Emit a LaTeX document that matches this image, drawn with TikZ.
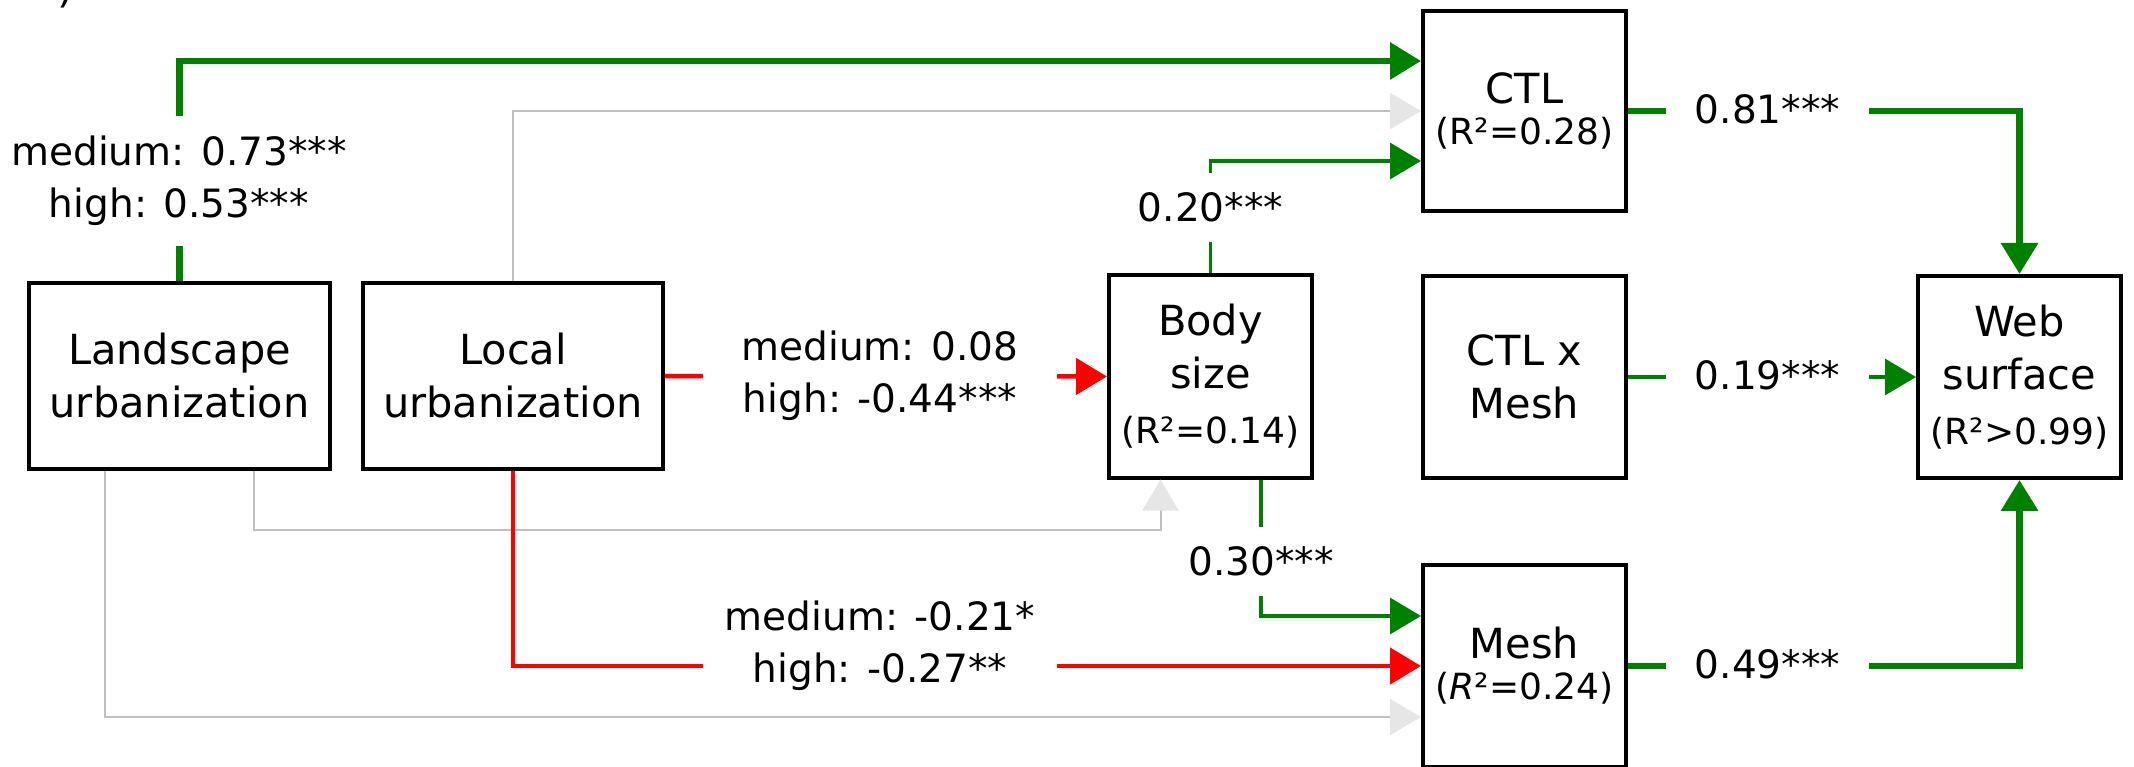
\documentclass[tikz,border=0pt]{standalone}
\usepackage{fontspec}
\setmainfont{DejaVu Sans}
\usetikzlibrary{arrows.meta}

\definecolor{pathgreen}{HTML}{008000}
\definecolor{pathred}{HTML}{FF0000}
\definecolor{pathgray}{HTML}{BFBFBF}
\definecolor{headgray}{HTML}{E6E6E6}

\newcommand\bxfont{\fontsize{41.5}{53}\selectfont}
\newcommand\lbfont{\fontsize{39}{52}\selectfont}
\newcommand\rsqfont{\fontsize{36}{36}\selectfont}

\begin{document}
\begin{tikzpicture}[x=1pt,y=-1pt,
  box/.style={draw=black, line width=4pt, fill=white, minimum width=203pt,
    minimum height=202pt, inner sep=0pt, align=center, font=\bxfont},
  elabel/.style={fill=white, inner xsep=0pt, inner ysep=20pt, align=center, font=\lbfont},
  hlabel/.style={elabel, minimum width=203pt},
  greenthick/.style={draw=pathgreen, line width=6.5pt, -{Triangle[length=31pt,width=36pt]}},
  greenthin/.style={draw=pathgreen, line width=3.5pt, -{Triangle[length=31pt,width=36pt]}},
  redpath/.style={draw=pathred, line width=4.5pt, -{Triangle[length=31pt,width=36pt]}},
  graypath/.style={draw=pathgray, line width=2pt, -{Triangle[length=31pt,width=36pt,color=headgray]}}
]
\useasboundingbox (0,0) rectangle (2134,767);

% panel letter, mostly above the page edge
\node[anchor=base east, inner sep=0pt, font=\fontsize{42}{50}\selectfont] (panel) at (74,2.5) {)};

% variables
\node[box, minimum width=301pt, minimum height=186pt] (land) at (179.5,376) {Landscape\\urbanization};
\node[box, minimum width=300pt, minimum height=186pt] (local) at (513,376) {Local\\urbanization};
\node[box] (body) at (1210.5,376.5) {Body\\size\\[2pt]{\rsqfont (R²=0.14)}};
\node[box, minimum height=200pt] (ctl) at (1524.5,111) {CTL\\[-12pt]{\rsqfont (R²=0.28)}};
\node[box] (ctlmesh) at (1524.5,377) {CTL x\\Mesh};
\node[box] (mesh) at (1524.5,666) {Mesh\\[-12pt]{\rsqfont (\textit{R}²=0.24)}};
\node[box] (web) at (2019.5,377) {Web\\surface\\[2pt]{\rsqfont (R²>0.99)}};

% paths
\draw[greenthick] (land.north) |- ([yshift=50pt]ctl.west);
\draw[graypath] (local.north) |- (ctl.west);
\draw[greenthin] (body.north) |- ([yshift=-50pt]ctl.west);
\draw[redpath] (local.east) -- (body.west);
\draw[graypath] ([xshift=74.5pt]land.south) -- ++(0,59) -| ([xshift=-50pt]body.south);
\draw[graypath] ([xshift=-74.5pt]land.south) |- ([yshift=-51pt]mesh.west);
\draw[redpath] (local.south) |- (mesh.west);
\draw[greenthin] ([xshift=50.5pt]body.south) |- ([yshift=50pt]mesh.west);
\draw[greenthick] (ctl.east) -| (web.north);
\draw[greenthin] (ctlmesh.east) -- (web.west);
\draw[greenthick] (mesh.east) -| (web.south);

% path coefficients
\node[elabel] (c1) at (179,181) {medium: 0.73***\\high: 0.53***};
\node[elabel] (c2) at (1210.5,207.5) {0.20***};
\node[elabel, inner ysep=6pt, minimum width=354pt] (c3) at (880,376) {medium: 0.08\\high: -0.44***};
\node[elabel, inner ysep=6pt, minimum width=354pt] (c4) at (880,645.5) {medium: -0.21*\\high: -0.27**};
\node[elabel] (c5) at (1261,561.5) {0.30***};
\node[hlabel] (c6) at (1767.5,109) {0.81***};
\node[hlabel] (c7) at (1767.5,375) {0.19***};
\node[hlabel] (c8) at (1767.5,664) {0.49***};
\end{tikzpicture}
\end{document}
